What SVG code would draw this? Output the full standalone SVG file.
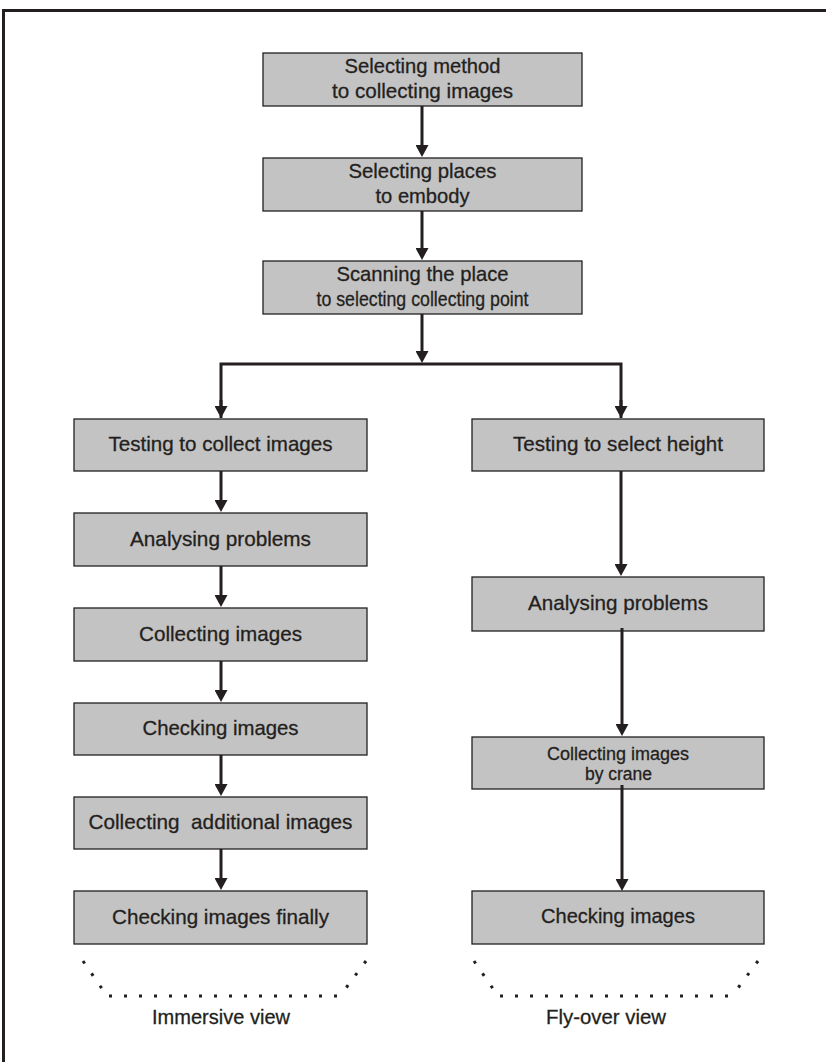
<svg xmlns="http://www.w3.org/2000/svg" width="826" height="1062" viewBox="0 0 826 1062">
  <style>
    .box { fill: #c3c3c3; stroke: #231f20; stroke-width: 1.3; }
    .lbl { font-family: "Liberation Sans", Arial, sans-serif; font-size: 21px; fill: #231f20; stroke: #231f20; stroke-width: 0.3; text-anchor: middle; }
    .sm { font-size: 18px; }
    .wire { fill: none; stroke: #231f20; stroke-width: 3; }
    .arrow { fill: none; stroke: #231f20; stroke-width: 3; marker-end: url(#head); }
    .dots { fill: none; stroke: #231f20; stroke-width: 3; stroke-dasharray: 3 12; }
  </style>
  <defs>
    <marker id="head" markerUnits="userSpaceOnUse" markerWidth="13" markerHeight="13" viewBox="0 0 12 13" refX="4" refY="6.5" orient="auto">
      <path d="M0,0 L12,6.5 L0,13 Z" fill="#231f20"/>
    </marker>
  </defs>

  <rect width="826" height="1062" fill="#ffffff"/>
  <!-- outer frame -->
  <path d="M3.5,1062 V10.5 H826" fill="none" stroke="#231f20" stroke-width="3"/>

  <!-- main column -->
  <g id="n-method">
    <rect class="box" x="263" y="53" width="319" height="53"/>
    <text class="lbl" x="422.5" y="73" textLength="156" lengthAdjust="spacingAndGlyphs">Selecting method</text>
    <text class="lbl" x="422.5" y="98" textLength="181" lengthAdjust="spacingAndGlyphs">to collecting images</text>
  </g>
  <g id="n-places">
    <rect class="box" x="263" y="158" width="319" height="53"/>
    <text class="lbl" x="422.5" y="178" textLength="148" lengthAdjust="spacingAndGlyphs">Selecting places</text>
    <text class="lbl" x="422.5" y="203" textLength="94" lengthAdjust="spacingAndGlyphs">to embody</text>
  </g>
  <g id="n-scan">
    <rect class="box" x="263" y="261" width="319" height="53"/>
    <text class="lbl" x="422.5" y="281" textLength="172" lengthAdjust="spacingAndGlyphs">Scanning the place</text>
    <text class="lbl" x="422.5" y="306" textLength="212" lengthAdjust="spacingAndGlyphs">to selecting collecting point</text>
  </g>

  <!-- immersive view branch -->
  <g id="n-test-collect">
    <rect class="box" x="74" y="419" width="293" height="52"/>
    <text class="lbl" x="220.5" y="451" textLength="224" lengthAdjust="spacingAndGlyphs">Testing to collect images</text>
  </g>
  <g id="n-analyse-left">
    <rect class="box" x="74" y="513" width="293" height="53"/>
    <text class="lbl" x="220.5" y="546" textLength="181" lengthAdjust="spacingAndGlyphs">Analysing problems</text>
  </g>
  <g id="n-collect">
    <rect class="box" x="74" y="608" width="293" height="53"/>
    <text class="lbl" x="220.5" y="641" textLength="163" lengthAdjust="spacingAndGlyphs">Collecting images</text>
  </g>
  <g id="n-check-left">
    <rect class="box" x="74" y="703" width="293" height="52"/>
    <text class="lbl" x="220.5" y="735" textLength="156" lengthAdjust="spacingAndGlyphs">Checking images</text>
  </g>
  <g id="n-additional">
    <rect class="box" x="74" y="797" width="293" height="52"/>
    <text class="lbl" x="220.5" y="829" textLength="264" lengthAdjust="spacingAndGlyphs" xml:space="preserve">Collecting  additional images</text>
  </g>
  <g id="n-final">
    <rect class="box" x="74" y="891" width="293" height="53"/>
    <text class="lbl" x="220.5" y="924" textLength="217" lengthAdjust="spacingAndGlyphs">Checking images finally</text>
  </g>

  <!-- fly-over view branch -->
  <g id="n-height">
    <rect class="box" x="472" y="419" width="292" height="52"/>
    <text class="lbl" x="618" y="451" textLength="210" lengthAdjust="spacingAndGlyphs">Testing to select height</text>
  </g>
  <g id="n-analyse-right">
    <rect class="box" x="472" y="577" width="292" height="54"/>
    <text class="lbl" x="618" y="610" textLength="180" lengthAdjust="spacingAndGlyphs">Analysing problems</text>
  </g>
  <g id="n-crane">
    <rect class="box" x="472" y="737" width="292" height="52"/>
    <text class="lbl sm" x="618" y="760" textLength="142" lengthAdjust="spacingAndGlyphs">Collecting images</text>
    <text class="lbl sm" x="618.5" y="780" textLength="67" lengthAdjust="spacingAndGlyphs">by crane</text>
  </g>
  <g id="n-check-right">
    <rect class="box" x="472" y="891" width="292" height="53"/>
    <text class="lbl" x="618" y="923" textLength="154" lengthAdjust="spacingAndGlyphs">Checking images</text>
  </g>

  <!-- group brackets and captions -->
  <g id="g-immersive">
    <path class="dots" d="M83,961 L107,996"/>
    <path class="dots" d="M109,996 H340"/>
    <path class="dots" d="M366,961 L340,996"/>
    <text class="lbl" x="221" y="1024" textLength="138" lengthAdjust="spacingAndGlyphs">Immersive view</text>
  </g>
  <g id="g-flyover">
    <path class="dots" d="M474,961 L498,996"/>
    <path class="dots" d="M500,996 H731"/>
    <path class="dots" d="M758,961 L732,996"/>
    <text class="lbl" x="606" y="1024" textLength="120" lengthAdjust="spacingAndGlyphs">Fly-over view</text>
  </g>

  <!-- connectors -->
  <g id="connectors">
    <path class="arrow" d="M422,106 V149"/>
    <path class="arrow" d="M422,211 V252"/>
    <path class="arrow" d="M422,314 V355"/>
    <path class="wire" d="M221,418 V364 H621 V418"/>
    <path class="arrow" d="M221,400 V410"/>
    <path class="arrow" d="M621,400 V410"/>
    <path class="arrow" d="M221,471 V504"/>
    <path class="arrow" d="M221,566 V599"/>
    <path class="arrow" d="M221,661 V694"/>
    <path class="arrow" d="M221,755 V788"/>
    <path class="arrow" d="M221,849 V882"/>
    <path class="arrow" d="M621,471 V568"/>
    <path class="arrow" d="M622,628 V728"/>
    <path class="arrow" d="M622,785 V883"/>
  </g>
</svg>
